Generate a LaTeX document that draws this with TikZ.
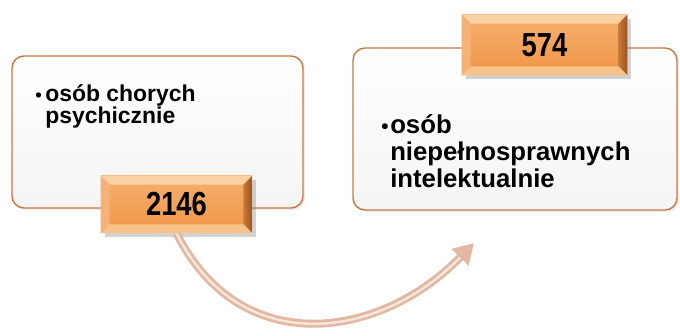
\documentclass[tikz,border=0pt]{standalone}
\usepackage{fontspec}
\setmainfont{Liberation Sans}
\usetikzlibrary{arrows.meta,calc,shadows}
\definecolor{facetop}{HTML}{F7B070}
\definecolor{facebot}{HTML}{EE9546}
\definecolor{bevlight}{HTML}{FBD2A4}
\definecolor{bevleft}{HTML}{F4B276}
\definecolor{bevdark}{HTML}{9A5220}
\definecolor{bevmid}{HTML}{C97A36}
\definecolor{bevbot}{HTML}{F6C38A}
\definecolor{frame}{HTML}{C87A44}
\definecolor{arrowbody}{HTML}{E2B8A2}
\definecolor{arrowhigh}{HTML}{F7E6DC}
\begin{document}
\begin{tikzpicture}[x=0.75pt,y=0.75pt,line join=round]
\tikzstyle{card}=[draw=frame,line width=1.1pt,rounded corners=9pt,top color=white,bottom color=black!4,
  drop shadow={shadow xshift=1.5pt,shadow yshift=-1.5pt,opacity=0.15},inner sep=0pt]
\tikzstyle{plate}=[top color=facetop,bottom color=facebot,inner sep=0pt,
  drop shadow={shadow xshift=3pt,shadow yshift=-3pt,opacity=0.35},font=\bfseries\fontsize{25}{25}\selectfont]
\tikzstyle{bullettext}=[anchor=base west,inner sep=0pt,align=left]
\useasboundingbox (0,0) rectangle (680,335);
% cards
\node[card,minimum width=218.25pt,minimum height=114pt] (left) at (157.5,203) {};
\node[card,minimum width=243pt,minimum height=121.5pt] (right) at (515,206) {};
\node[bullettext,font=\bfseries\fontsize{17.2}{15.8}\selectfont] (lefttxt) at (35,211)
  {\makebox[7.5pt][l]{\scalebox{0.8}{•}}osób chorych\\\hspace*{7.5pt}psychicznie};
\node[bullettext,font=\bfseries\fontsize{19.3}{20.25}\selectfont] (righttxt) at (381,147)
  {\makebox[6.75pt][l]{\scalebox{0.8}{•}}osób\\\hspace*{6.75pt}niepełnosprawnych\\\hspace*{6.75pt}intelektualnie};
% arrow
\coordinate (tip) at (474,92);
\node[plate,minimum width=113.25pt,minimum height=42.75pt] (num1) at (176.5,130.5) {\scalebox{0.82}[1]{2146}};
\node[plate,minimum width=123.75pt,minimum height=45pt] (num2) at (544.5,290) {\scalebox{0.82}[1]{574}};
\draw[arrowbody,line width=6pt,-{Triangle[length=15pt,width=17pt]}] (num1.south) .. controls (240,-25) and (380,-5) .. (tip);
\draw[arrowhigh,line width=1.8pt,shorten >=15pt] (num1.south) .. controls (240,-25) and (380,-5) .. (tip);
% bevels
\foreach \n in {num1,num2}{
  \fill[bevlight] (\n.north west) -- (\n.north east) -- ($(\n.north east)+(-9,-9)$) -- ($(\n.north west)+(9,-9)$) -- cycle;
  \fill[bevleft] (\n.north west) -- ($(\n.north west)+(9,-9)$) -- ($(\n.south west)+(9,9)$) -- (\n.south west) -- cycle;
  \shade[left color=bevmid,right color=bevdark] (\n.north east) -- (\n.south east) -- ($(\n.south east)+(-9,9)$) -- ($(\n.north east)+(-9,-9)$) -- cycle;
  \fill[bevbot] (\n.south west) -- ($(\n.south west)+(9,9)$) -- ($(\n.south east)+(-9,9)$) -- (\n.south east) -- cycle;
}
\end{tikzpicture}
\end{document}
